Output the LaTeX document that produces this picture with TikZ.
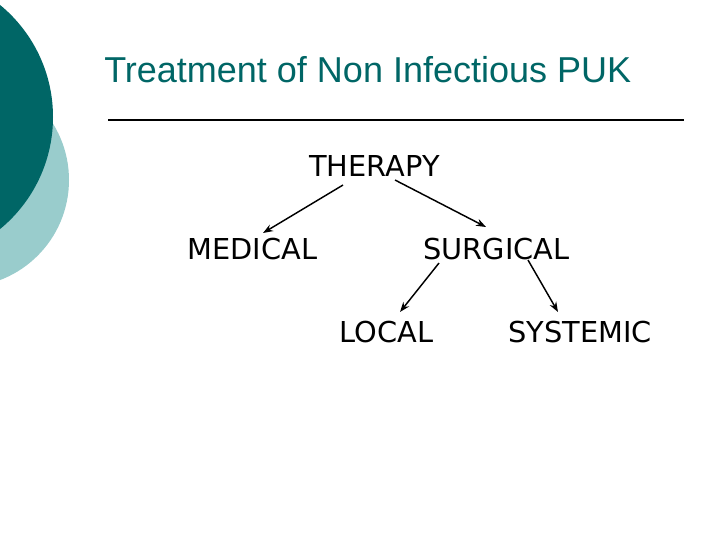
\documentclass[tikz,border=0pt]{standalone}
\usepackage{fontspec}
\setmainfont{DejaVu Sans}
\newfontfamily\titlefont{Liberation Sans}
\usetikzlibrary{calc,arrows.meta}
\definecolor{darkteal}{RGB}{0,102,102}
\definecolor{lightteal}{RGB}{153,204,204}
\tikzset{
  lbl/.style={inner sep=0pt, font=\fontsize{21.6}{24}\selectfont, text=black},
  conn/.style={-{Stealth[length=7.5pt,width=5.5pt]}, line width=1.1pt, black},
}
\begin{document}
\begin{tikzpicture}[x=0.75pt,y=-0.75pt]
\useasboundingbox (0,0) rectangle (720,540);
\fill[white] (0,0) rectangle (720,540);
\begin{scope}
\clip (0,0) rectangle (720,540);
\fill[lightteal] (-38,180) circle[radius=107];
\fill[darkteal] (-92,117) circle[radius=145];
\end{scope}
\node[anchor=west, inner sep=0pt, text=darkteal, font=\titlefont\fontsize{27}{30}\selectfont] (title) at (104,70) {Treatment of Non Infectious PUK};
\coordinate (l1) at (108,120);
\coordinate (l2) at (684,120);
\draw[line width=1.3pt] (l1) -- (l2);
\node[lbl] (therapy) at (374.5,165.5) {THERAPY};
\node[lbl] (medical) at (252.5,249) {MEDICAL};
\node[lbl] (surgical) at (496.5,249.5) {SURGICAL};
\node[lbl] (local) at (386.5,332.5) {LOCAL};
\node[lbl] (systemic) at (580,332.5) {SYSTEMIC};
\draw[conn] ($(therapy.center)+(-31.5,19.5)$) -- ($(medical.center)+(10.5,-16)$);
\draw[conn] ($(therapy.center)+(20.5,14.5)$) -- ($(surgical.center)+(-10.5,-22.5)$);
\draw[conn] ($(surgical.center)+(-57.5,13.5)$) -- ($(local.center)+(13.5,-20.5)$);
\draw[conn] ($(surgical.center)+(31.5,10.5)$) -- ($(systemic.center)+(-22,-20.5)$);
\end{tikzpicture}
\end{document}
